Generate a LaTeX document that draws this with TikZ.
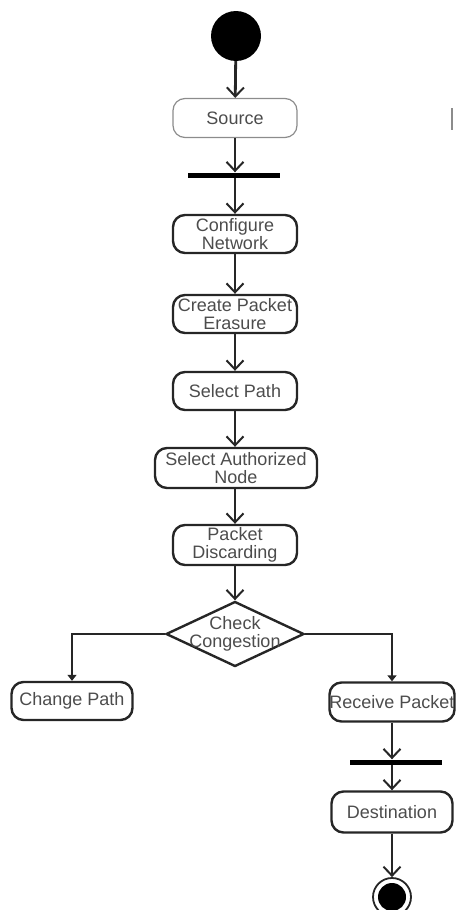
\documentclass[tikz,border=0pt]{standalone}
\usepackage{fontspec}
\setmainfont{Liberation Sans}
\usetikzlibrary{arrows.meta,shapes.geometric}
\begin{document}
\begin{tikzpicture}[x=1pt,y=-1pt,
  act/.style={draw=black!85,line width=2.4pt,rounded corners=12pt,minimum width=124pt,minimum height=39pt,align=center,inner sep=0pt,font=\fontsize{18}{18}\selectfont,text=black!70},
  flow/.style={draw=black!85,line width=2.8pt,-{Straight Barb[length=9pt,width=17pt,line width=2pt]}},
  flowsm/.style={draw=black!85,line width=2.6pt,-{Triangle[length=6pt,width=9pt]}},
  syncbar/.style={fill=black,inner sep=0pt,minimum width=92pt,minimum height=5pt},
  lbl/.style={align=center,inner sep=0pt,font=\fontsize{18}{18}\selectfont,text=black!70}]
\useasboundingbox (0,0) rectangle (459,910);
\node[circle,fill=black,minimum size=50pt,inner sep=0pt] (start) at (236,36) {};
\node[act,draw=black!45,line width=1.2pt] (src) at (235,118) {Source};
\node[syncbar] (bar1) at (234,175) {};
\node[act,minimum height=38pt] (cfg) at (235,234) {Configure\\Network};
\node[act,minimum height=38pt] (cpe) at (235,314) {Create Packet\\Erasure};
\node[act,minimum height=38pt] (sp) at (235,391) {Select Path};
\node[act,minimum width=162pt,minimum height=40pt] (san) at (236,468) {Select Authorized\\Node};
\node[act,minimum height=40pt] (pd) at (235,545) {Packet\\Discarding};
\node[diamond,draw=black!85,line width=2.4pt,minimum width=138pt,minimum height=65pt,inner sep=0pt] (dia) at (235,634) {};
\node[lbl] (dialbl) at (dia.center) {Check\\Congestion};
\node[act,minimum width=121pt,minimum height=38pt] (cp) at (72,701) {Change Path};
\node[act,minimum width=121pt,minimum height=39pt] (rp) at (392,702) {Receive Packet};
\node[syncbar] (bar2) at (396,762) {};
\node[act,minimum width=121pt,minimum height=41pt] (dest) at (392,812) {Destination};
\node[circle,draw=black!85,line width=1.8pt,minimum size=38pt,inner sep=0pt] (endc) at (392,897) {};
\fill[black] (endc.center) circle (14pt);
\draw[flow] (start) -- (src);
\draw[flow] (src.south) -- (src.south |- bar1.north);
\draw[flow] (cfg.north |- bar1.south) -- (cfg.north);
\draw[flow] (cfg) -- (cpe);
\draw[flow] (cpe) -- (sp);
\draw[flow] (sp.south) -- (sp.south -| 235,0) -- (235,0 |- san.north);
\draw[flow] (san.south -| pd.north) -- (pd.north);
\draw[flow] (pd) -- (dia.north);
\draw[flowsm] (dia.west) -| (cp.north);
\draw[flowsm] (dia.east) -| (rp.north);
\draw[flow] (rp.south) -- (rp.south |- bar2.north);
\draw[flow] (dest.north |- bar2.south) -- (dest.north);
\draw[flow] (dest) -- (endc);
\draw[black!45,line width=1.5pt] (452,108) -- (452,130);
\end{tikzpicture}
\end{document}
